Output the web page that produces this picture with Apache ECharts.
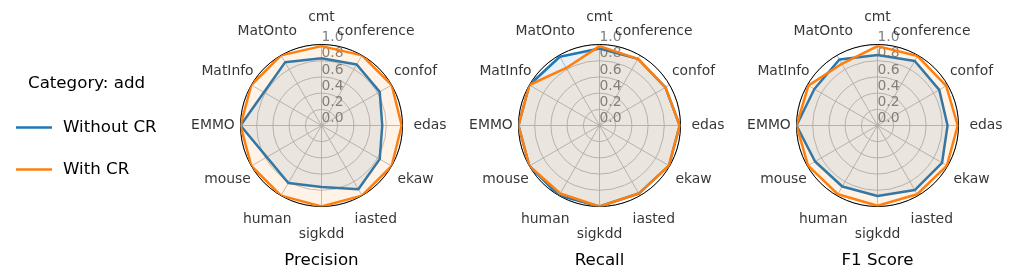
<!DOCTYPE html>
<html>
<head>
<meta charset="utf-8">
<script src="https://cdn.jsdelivr.net/npm/echarts@6/dist/echarts.min.js"></script>
<style>
html,body{margin:0;padding:0;background:#fff;}
#chart{width:1013px;height:279px;}
</style>
</head>
<body>
<div id="chart"></div>
<script>
const categories = ['cmt','conference','confof','edas','ekaw','iasted','sigkdd','human','mouse','EMMO','MatInfo','MatOnto'];
const radialTicks = [0.0, 0.2, 0.4, 0.6, 0.8, 1.0];
const panelTitles = ['Precision', 'Recall', 'F1 Score'];
const seriesNames = ['Without CR', 'With CR'];
const legendTitle = 'Category: add';

const precisionWithout = [0.83, 0.87, 0.83, 0.75, 0.83, 0.91, 0.76, 0.82, 0.78, 1.00, 0.82, 0.90];
const precisionWith    = [0.98, 1.00, 1.00, 0.99, 1.00, 1.00, 1.00, 1.00, 1.00, 1.00, 1.00, 1.00];
const recallWithout    = [0.95, 0.95, 0.94, 0.99, 0.99, 0.97, 1.00, 1.00, 1.00, 1.00, 1.00, 0.98];
const recallWith       = [0.98, 0.95, 0.94, 0.99, 0.99, 0.97, 1.00, 0.97, 1.00, 1.00, 1.00, 0.82];
const f1Without        = [0.87, 0.92, 0.88, 0.865, 0.92, 0.92, 0.87, 0.87, 0.89, 1.00, 0.90, 0.94];
const f1With           = [0.98, 0.99, 0.98, 0.99, 0.99, 0.98, 0.99, 0.98, 0.99, 1.00, 0.985, 0.88];

const panels = [
  [precisionWithout, precisionWith],
  [recallWithout, recallWith],
  [f1Without, f1With]
];

const FONT = 'DejaVu Sans';
const colors = ['#1f77b4', '#ff7f0e'];
const centersX = [321.5, 599.5, 877.5];
const centerY = 125.5;
const R = 81;
const labelRadius = 1.34;
const N = categories.length;

const polar = [], angleAxis = [], radiusAxis = [], series = [], titles = [];

titles.push({
  text: legendTitle, left: 28, top: 75, padding: 0,
  textStyle: {fontFamily: FONT, fontSize: 16.67, fontWeight: 'normal', color: '#000'}
});

panels.forEach((vals, i) => {
  polar.push({center: [centersX[i], centerY], radius: R});
  angleAxis.push({
    polarIndex: i, type: 'value', min: 0, max: N, interval: 1, startAngle: 90, clockwise: true,
    axisLine: {show: true, lineStyle: {color: '#000', width: 1}},
    axisTick: {show: false},
    axisLabel: {show: false},
    splitLine: {show: true, lineStyle: {color: '#b0b0b0', width: 0.8}}
  });
  radiusAxis.push({
    polarIndex: i, type: 'value', min: radialTicks[0], max: radialTicks[radialTicks.length - 1], interval: 0.2,
    axisLine: {show: false}, axisTick: {show: false},
    axisLabel: {
      show: true, color: '#808080', fontFamily: FONT, fontSize: 13.9,
      formatter: v => v.toFixed(1), align: 'left', verticalAlign: 'bottom', margin: 0
    },
    splitLine: {show: true, lineStyle: {color: '#b0b0b0', width: 0.8}}
  });
  vals.forEach((arr, k) => {
    const d = categories.map((c, j) => [arr[j], j]);
    d.push([arr[0], N]);
    series.push({
      name: seriesNames[k], type: 'line', coordinateSystem: 'polar', polarIndex: i,
      data: d, symbol: 'none', showSymbol: false, clip: false, smooth: false,
      lineStyle: {color: colors[k], width: 2.5},
      itemStyle: {color: colors[k]},
      areaStyle: {color: colors[k], opacity: 0.1},
      animation: false, z: 3 + k
    });
  });
  series.push({
    type: 'scatter', coordinateSystem: 'polar', polarIndex: i, clip: false, silent: true,
    symbolSize: 1, itemStyle: {color: 'rgba(0,0,0,0)'},
    data: categories.map((c, j) => ({name: c, value: [labelRadius, j]})),
    label: {show: true, position: 'inside', formatter: p => p.name, color: '#000',
      fontFamily: FONT, fontSize: 13.9, align: 'center', verticalAlign: 'middle'},
    animation: false
  });
  titles.push({
    text: panelTitles[i], left: centersX[i], top: 252, textAlign: 'center', padding: 0,
    textStyle: {fontFamily: FONT, fontSize: 16.67, fontWeight: 'normal', color: '#000'}
  });
});

const chart = echarts.init(document.getElementById('chart'), null, {renderer: 'canvas'});
chart.setOption({
  backgroundColor: '#fff',
  animation: false,
  title: titles,
  legend: {
    data: seriesNames.map((n, k) => ({name: n, itemStyle: {color: colors[k]}})),
    orient: 'vertical', left: 16, top: 119, padding: 0, icon: 'rect', itemWidth: 36, itemHeight: 2.5, itemGap: 25,
    textStyle: {fontFamily: FONT, fontSize: 16.67, color: '#000', padding: [0, 0, 0, 6]}
  },
  polar, angleAxis, radiusAxis, series
});
</script>
</body>
</html>
